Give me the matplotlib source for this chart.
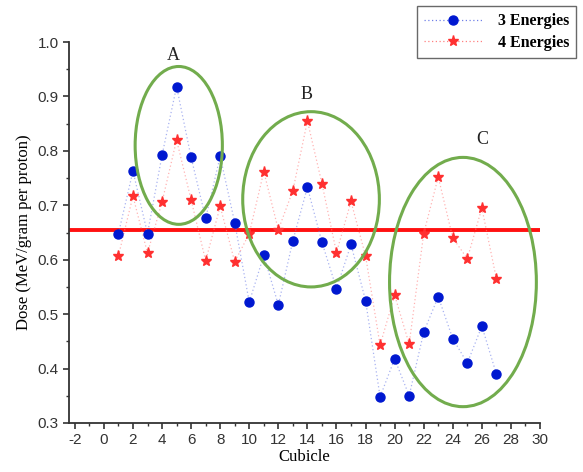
import numpy as np
import matplotlib.pyplot as plt
from matplotlib.patches import Ellipse

plt.rcParams['axes.unicode_minus'] = False

# dose per cubicle for the two energy setups
cubicle = np.arange(1, 28)
dose_3e = [0.648, 0.763, 0.648, 0.792, 0.918, 0.788, 0.676, 0.790, 0.668, 0.522,
           0.608, 0.517, 0.635, 0.733, 0.632, 0.547, 0.628, 0.525, 0.348, 0.418,
           0.350, 0.467, 0.532, 0.455, 0.410, 0.478, 0.390]
dose_4e = [0.607, 0.717, 0.612, 0.706, 0.820, 0.710, 0.598, 0.698, 0.596, 0.648,
           0.762, 0.655, 0.727, 0.855, 0.740, 0.613, 0.707, 0.607, 0.443, 0.535,
           0.445, 0.648, 0.752, 0.640, 0.602, 0.695, 0.565]
ref_dose = 0.655

# highlighted regions: label, centre, width, height, label position
regions = [("A", (5.15, 0.810), 6.0, 0.290, (4.75, 0.976)),
           ("B", (14.25, 0.711), 9.4, 0.322, (13.95, 0.903)),
           ("C", (24.7, 0.559), 10.1, 0.458, (26.0, 0.821))]

fig = plt.figure(figsize=(5.83, 4.72), dpi=100)
ax = fig.add_axes([69/583, 1-423/472, (540-69)/583, (423-42)/472])

# faint dotted connectors, solid markers on top
ax.plot(cubicle, dose_3e, color='#7080e8', ls=(0, (1, 2)), lw=0.9, alpha=0.6)
ax.plot(cubicle, dose_4e, color='#ff8080', ls=(0, (1, 2)), lw=0.9, alpha=0.6)
ax.plot(cubicle, dose_3e, ls='none', marker='o', ms=6.5, color='#0018d0')
ax.plot(cubicle, dose_4e, ls='none', marker='*', ms=8, color='#ff3030')
ax.axhline(ref_dose, color='#ff1010', lw=2.8, zorder=1)

for name, c, w, h, pos in regions:
    ax.add_patch(Ellipse(c, w, h, fill=False, ec='#72ac4d', lw=2.2, zorder=4))
    ax.text(pos[0], pos[1], name, ha='center', va='center', fontsize=13,
            family='Liberation Serif', color='#222222')

ax.set_xlim(-2.4, 30)
ax.set_ylim(0.3, 1.0)
ax.set_xticks(np.arange(-2, 31, 2))
ax.set_xticks(np.arange(-1, 30, 2), minor=True)
ax.set_yticks(np.arange(0.3, 1.01, 0.1))
ax.set_yticks(np.arange(0.35, 1.0, 0.1), minor=True)
ax.set_yticklabels(['%.1f' % v for v in np.arange(0.3, 1.01, 0.1)])
for s in ('top', 'right'):
    ax.spines[s].set_visible(False)
for s in ('left', 'bottom'):
    ax.spines[s].set_color('#333333')
    ax.spines[s].set_linewidth(1.3)
ax.tick_params(which='major', direction='out', length=4, width=1.2, color='#333333',
               labelsize=11, labelcolor='#333333')
ax.tick_params(which='minor', direction='out', length=2.5, width=1.0, color='#333333')
for t in ax.get_xticklabels() + ax.get_yticklabels():
    t.set_family('Liberation Sans')

ax.set_xlabel('Cubicle', family='Liberation Serif', fontsize=12, labelpad=1)
ax.set_ylabel('Dose (MeV/gram per proton)', family='Liberation Serif', fontsize=12, labelpad=4)

# legend handles combine the faint connector with the marker
h1, = ax.plot([], [], color='#7080e8', ls=(0, (1, 2)), lw=0.9, marker='o', ms=6.5,
              mfc='#0018d0', mec='#0018d0', label='3 Energies')
h2, = ax.plot([], [], color='#ff8080', ls=(0, (1, 2)), lw=0.9, marker='*', ms=8,
              mfc='#ff3030', mec='#ff3030', label='4 Energies')
leg = fig.legend(handles=[h1, h2], loc='upper left', bbox_to_anchor=(417/583, 1-6/472),
                 borderaxespad=0, frameon=True, fancybox=False, edgecolor='#444444',
                 prop={'family': 'Liberation Serif', 'size': 11.5, 'weight': 'bold'},
                 handlelength=3.6, handletextpad=1.0, borderpad=0.45, labelspacing=0.35)
leg.get_frame().set_linewidth(1.0)

fig.savefig('out.png', dpi=100)
